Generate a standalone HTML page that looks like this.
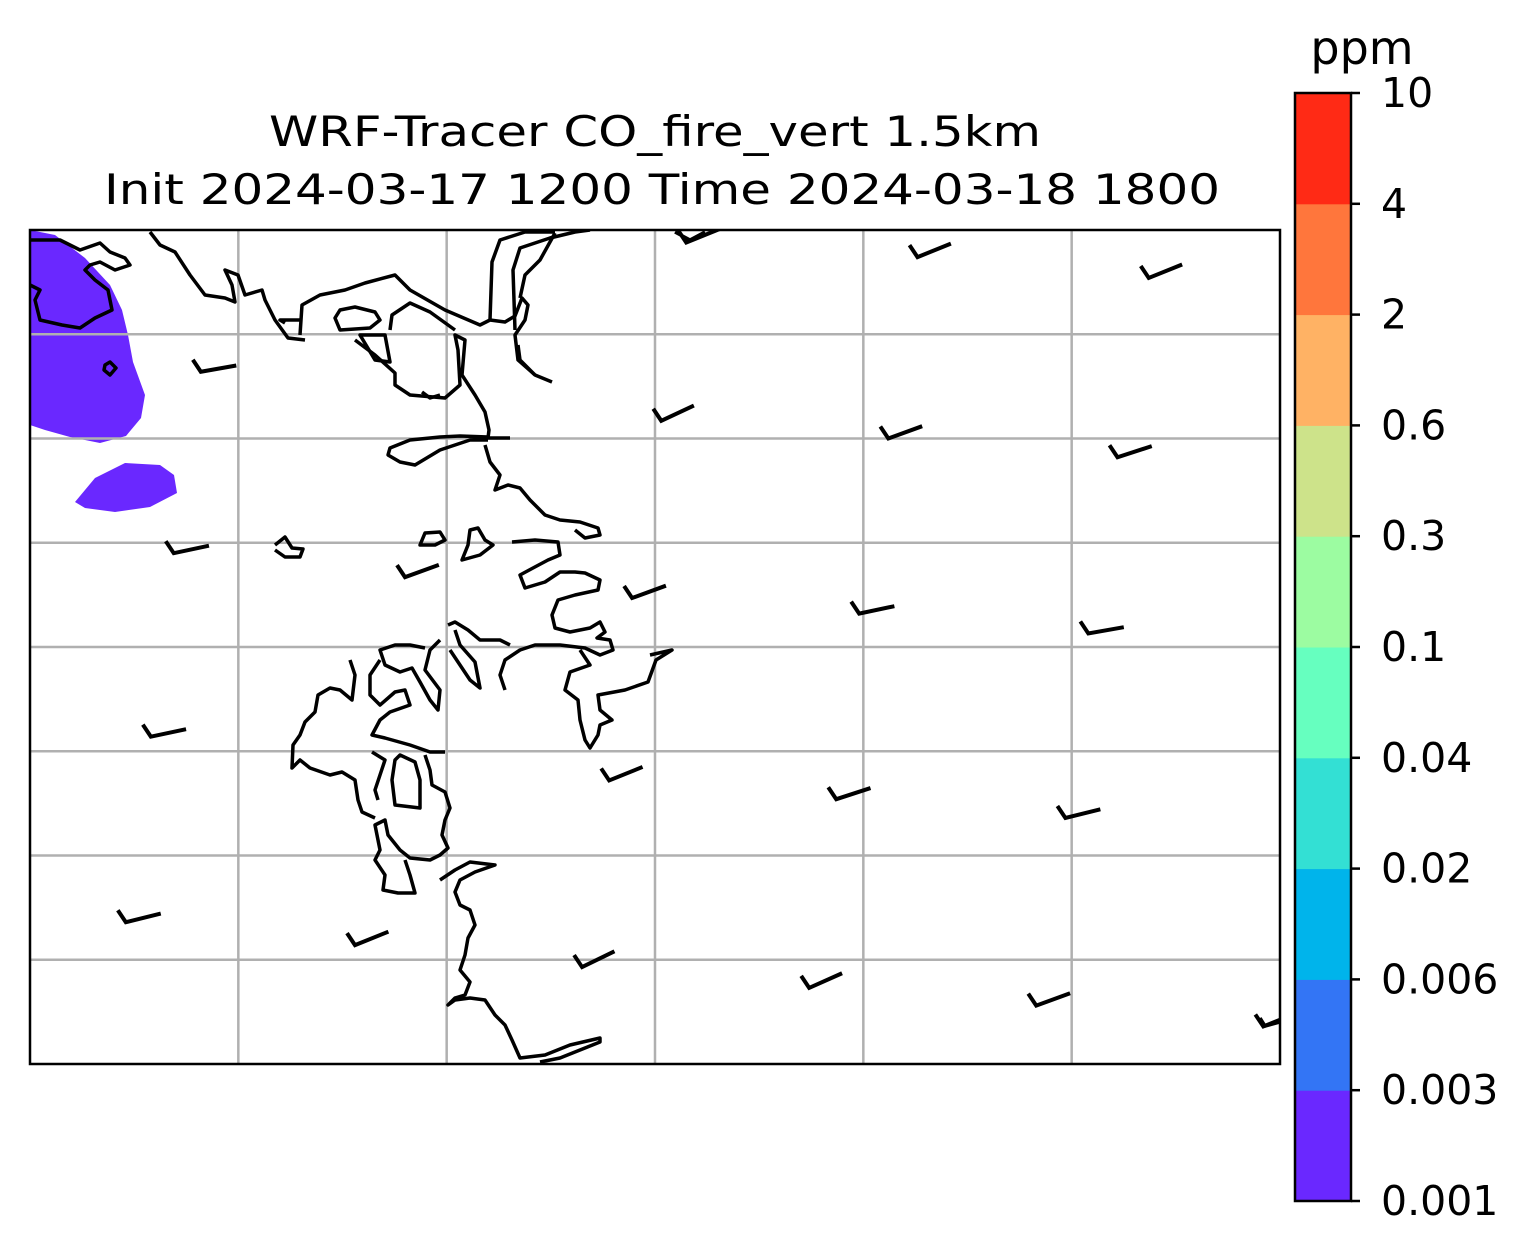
<!DOCTYPE html>
<html><head><meta charset="utf-8"><style>
body{margin:0;background:#fff;}
svg{display:block;font-family:"DejaVu Sans","Liberation Sans",sans-serif;}
</style></head><body>
<svg id="fig" width="1528" height="1256" viewBox="0 0 1528 1256">
<rect width="1528" height="1256" fill="#fff"/>
<text x="655" y="146" font-size="42" text-anchor="middle" textLength="772" lengthAdjust="spacingAndGlyphs">WRF-Tracer CO_fire_vert 1.5km</text>
<text x="662" y="204" font-size="42" text-anchor="middle" textLength="1116" lengthAdjust="spacingAndGlyphs">Init 2024-03-17 1200 Time 2024-03-18 1800</text>
<defs><clipPath id="mc"><rect x="30" y="230" width="1250" height="834"/></clipPath></defs>
<g clip-path="url(#mc)">
<path fill="#6a28ff" d="M30,230 L55,235 L85,258 L110,285 L122,310 L128,335 L133,362 L145,395 L141,418 L126,436 L100,443 L70,437 L45,430 L30,425 Z"/>
<path fill="#6a28ff" d="M75,502 L95,478 L125,463 L160,465 L174,475 L177,493 L150,507 L115,512 L85,508 Z"/>
<g id="grid" stroke="#b0b0b0" stroke-width="2.5"></g>
<g fill="none" stroke="#000" stroke-width="3.5" stroke-linejoin="round">
<path d="M30,240 L60,240 L80,250 L100,243 L110,252 L125,258 L130,265 L115,270 L100,262 L90,265 L85,270 L95,280 L108,290 L112,310 L95,318 L80,328 L62,325 L40,320 L35,300 L40,290 L30,285"/>
<path d="M105,365 L110,362 L116,368 L110,375 L104,370 Z"/>
<path d="M150,232 L160,245 L175,252 L190,275 L205,295 L225,298 L235,302 L232,285 L225,270 L238,275 L245,295 L262,290 L265,300 L275,320 L288,338 L305,340"/>
<path d="M300,335 L302,305 L320,295 L345,290 L365,283 L395,275 L410,290 L445,310 L480,325 L490,320 L505,322 L515,316 L522,298 L528,305 L525,320 L515,335 L518,360 L535,375 L552,382"/>
<path d="M285,323 L280,320 L300,320"/>
<path d="M335,318 L340,310 L355,307 L375,312 L380,320 L370,328 L340,330 Z"/>
<path d="M355,340 L375,355 L395,373 L395,385 L410,395 L445,398 L460,385 L458,350 L455,335 L465,340 L462,375 L475,395 L485,412 L489,430 L488,438 L510,438"/>
<path d="M360,335 L375,360 L390,362 L385,335 L368,335 Z"/>
<path d="M390,330 L392,315 L410,303 L430,312 L455,330"/>
<path d="M490,320 L492,262 L500,240 L525,232 L555,232"/>
<path d="M515,330 L513,270 L520,248 L550,238 L575,232 L590,230"/>
<path d="M535,375 L520,360 L518,345"/>
<path d="M555,233 L540,260 L525,275 L520,298"/>
<path d="M422,392 L430,398 L440,395"/>
<path d="M488,440 L470,440 L440,450 L415,465 L400,462 L388,455 L390,448 L410,440 L440,437 L460,436 L488,437"/>
<path d="M485,445 L490,462 L500,475 L495,490 L508,485 L520,488 L530,500 L545,515 L560,520 L580,522 L598,528 L600,535 L585,538 L575,530"/>
<path d="M275,545 L285,537 L292,548 L303,549 L300,557 L285,557 L275,550"/>
<path d="M420,545 L425,533 L440,532 L445,540 L435,545 L425,545 Z"/>
<path d="M470,530 L478,528 L485,540 L493,545 L480,555 L462,560 L468,545 Z"/>
<path d="M512,542 L535,540 L558,542 L560,555 L548,560 L533,568 L520,575 L525,588 L545,582 L560,572 L575,572 L585,573 L600,580 L598,590 L575,595 L558,600 L552,615 L555,628 L570,632 L590,628 L600,622 L605,632 L597,638 L610,640 L613,650 L600,655 L585,648 L560,645 L535,645 L520,650 L505,660 L500,675 L505,690"/>
<path d="M448,625 L455,622 L468,630 L480,640 L500,640 L510,645"/>
<path d="M455,630 L460,645 L475,662 L480,688 L470,680 L460,665 L450,650"/>
<path d="M580,650 L590,665 L570,672 L565,690 L578,700 L580,720 L585,740 L590,748 L598,735 L600,725 L612,720 L600,710 L598,695 L625,690 L648,682 L656,660 L672,650 L650,655"/>
<path d="M440,640 L430,650 L425,670 L440,690 L438,710 L430,700 L420,682 L412,668 L400,672 L385,665 L380,650 L395,645 L410,645 L425,648"/>
<path d="M350,660 L355,675 L352,700 L340,690 L330,688 L318,695 L315,712 L305,722 L300,735 L293,745 L292,768 L300,760 L310,768 L330,775 L342,772 L355,780 L358,800 L362,812 L375,818"/>
<path d="M380,660 L370,675 L370,695 L380,705 L395,692 L405,690 L410,705 L390,712 L380,720 L372,735 L385,738 L410,745 L430,752 L445,752"/>
<path d="M372,752 L385,760 L380,775 L375,790 L378,800"/>
<path d="M395,760 L392,780 L395,805 L420,808 L420,780 L415,762 L400,755 Z"/>
<path d="M425,755 L430,770 L432,785 L445,792 L450,808 L445,820 L442,835 L448,848 L440,855 L430,860 L410,858 L400,850 L388,835 L385,820 L375,825 L380,850 L375,860 L385,875 L383,890 L398,893 L415,893 L410,875 L405,860"/>
<path d="M440,880 L455,870 L470,862 L495,865 L475,872 L460,880 L455,892 L460,905 L470,910 L475,925 L468,938 L465,955 L460,970 L470,982 L465,995 L455,998 L448,1005 L455,1000 L470,998 L485,1000 L495,1015 L505,1025 L512,1040 L520,1058 L545,1055 L570,1045 L600,1038 L600,1042 L580,1050 L560,1058 L540,1062"/>
<path d="M675,232 L690,240 L705,232"/>
<path d="M1260,1018 L1265,1026 L1280,1022"/>
</g>
<g id="barbs" fill="none" stroke="#000" stroke-width="4" stroke-linejoin="miter"></g>
</g>
<rect x="30" y="230" width="1250" height="834" fill="none" stroke="#000" stroke-width="2.5"/>
<g id="cbar"></g>
<text x="1362" y="64" font-size="46" text-anchor="middle">ppm</text>
</svg>
<script>
// colorbar data
const levelLabels = ["0.001","0.003","0.006","0.02","0.04","0.1","0.3","0.6","2","4","10"];
const levelColors = ["#6a28ff","#3375f5","#00b4eb","#33e0d4","#66ffbf","#9cfca1","#cde38a","#ffb264","#ff763c","#ff2a15"];
// wind barbs in grid units (col, row from top); shaft angle in degrees
const barbCol = [3.15,4.26,5.37, 0.82,3.03,4.12,5.22, 0.69,1.80,2.89,3.98,5.08, 0.58,2.78,3.87,4.97, 0.46,1.56,2.65,3.74,4.83,5.92];
const barbRow = [0.12,0.26,0.46, 1.36,1.83,2.00,2.18, 3.10,3.33,3.53,3.68,3.87, 4.86,5.28,5.46,5.64, 6.64,6.86,7.07,7.27,7.44,7.64];
const barbAng = [-22,-22,-22, -10,-25,-20,-18, -12,-20,-20,-12,-10, -12,-22,-18,-14, -14,-22,-26,-24,-20,-22];
const NS="http://www.w3.org/2000/svg";
const X0=30,Y0=230,W=1250,H=834,CW=W/6,RH=H/8;
const xs=c=>X0+c*CW, ys=r=>Y0+r*RH;
const grid=document.getElementById('grid');
for(let i=1;i<6;i++){const l=document.createElementNS(NS,'line');


l.setAttribute('x1',xs(i));l.setAttribute('x2',xs(i));l.setAttribute('y1',Y0);l.setAttribute('y2',Y0+H);grid.appendChild(l);}
for(let j=1;j<8;j++){const l=document.createElementNS(NS,'line');


l.setAttribute('x1',X0);l.setAttribute('x2',X0+W);l.setAttribute('y1',ys(j));l.setAttribute('y2',ys(j));grid.appendChild(l);}
const bg=document.getElementById('barbs');
for(let i=0;i<barbCol.length;i++){
 const bx=xs(barbCol[i]),by=ys(barbRow[i]),a=barbAng[i]*Math.PI/180,L=36;
 const ex=bx+L*Math.cos(a),ey=by+L*Math.sin(a);
 const p=document.createElementNS(NS,'path');
 
 
 p.setAttribute('d',`M${bx-8},${by-12} L${bx},${by} L${ex},${ey}`);
 bg.appendChild(p);}
const cb=document.getElementById('cbar');
const CX=1295,CY0=93,CY1=1201,CWd=56,n=levelColors.length,bh=(CY1-CY0)/n;
const ys2=k=>CY1-k*bh;
for(let k=0;k<n;k++){const r=document.createElementNS(NS,'rect');


r.setAttribute('x',CX);r.setAttribute('y',ys2(k+1));r.setAttribute('width',CWd);r.setAttribute('height',bh+0.5);r.setAttribute('fill',levelColors[k]);cb.appendChild(r);}
const fr=document.createElementNS(NS,'rect');


fr.setAttribute('x',CX);fr.setAttribute('y',CY0);fr.setAttribute('width',CWd);fr.setAttribute('height',CY1-CY0);fr.setAttribute('fill','none');fr.setAttribute('stroke','#000');fr.setAttribute('stroke-width','2.5');cb.appendChild(fr);
levelLabels.forEach((t,k)=>{const y=ys2(k);
 const tk=document.createElementNS(NS,'line');
 
 
 tk.setAttribute('x1',CX+CWd);tk.setAttribute('x2',CX+CWd+9);tk.setAttribute('y1',y);tk.setAttribute('y2',y);tk.setAttribute('stroke','#000');tk.setAttribute('stroke-width','2.5');cb.appendChild(tk);
 const tx=document.createElementNS(NS,'text');
 
 
 tx.setAttribute('x',CX+CWd+30);tx.setAttribute('y',y+14);tx.setAttribute('font-size','41');tx.textContent=t;cb.appendChild(tx);});
</script>
</body></html>
